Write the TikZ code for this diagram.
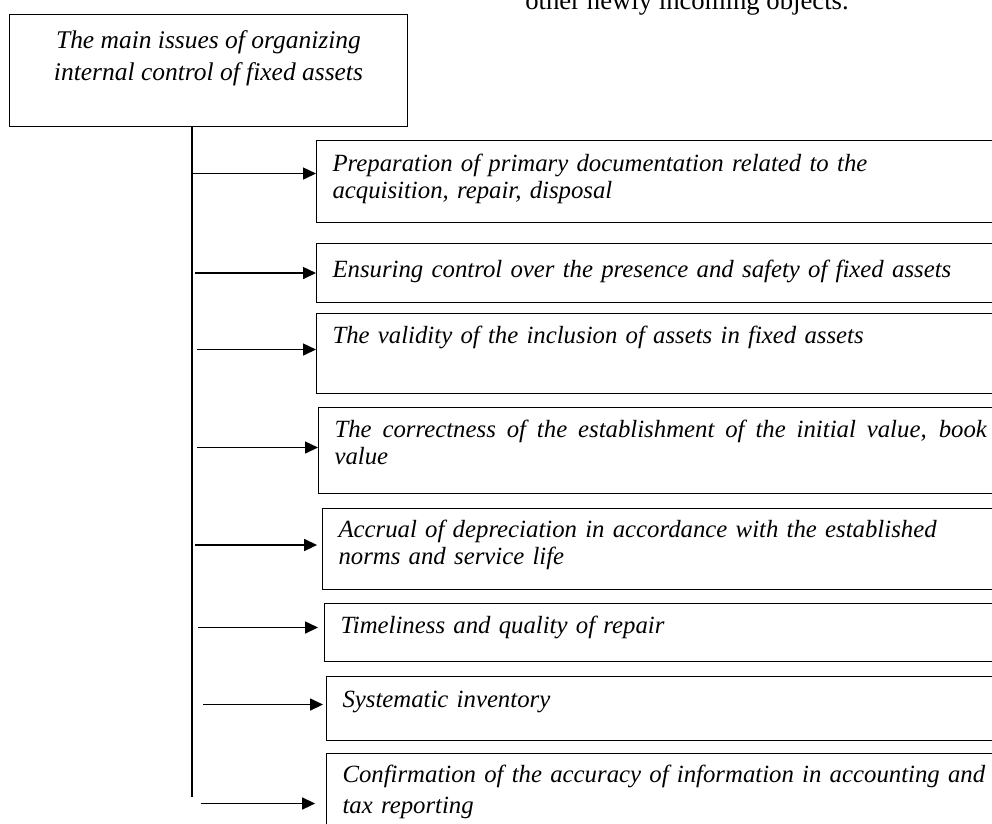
\documentclass[tikz,border=0pt]{standalone}
\usepackage{fontspec}
\setmainfont{Liberation Serif}
\usetikzlibrary{arrows.meta, positioning}

\tikzstyle{headbox} = [rectangle, draw=black, line width=0.6pt, anchor=north west,
minimum width=7.96cm, minimum height=2.24cm, inner ysep=0pt,
align=center, font=\fontsize{14.5}{18.1}\selectfont\itshape]
\tikzstyle{issuebox} = [rectangle, draw=black, line width=0.6pt, anchor=north west,
text width=13cm, inner xsep=0.32cm, inner ysep=0pt, text height=10pt,
align=left, font=\fontsize{14.1}{15.3}\selectfont\itshape]
\tikzstyle{arrow} = [-{Triangle[length=2.6mm, width=2.4mm]}, line width=0.9pt]

\begin{document}
\begin{tikzpicture}[x=0.02cm, y=-0.02cm]
    \useasboundingbox (0,0) rectangle (992,824);

    \node (note) [anchor=base west, inner sep=0pt, font=\fontsize{15.2}{18}\selectfont]
    at (525,10) {other newly incoming objects.};

    \node (main) [headbox, text height=14.3pt, text depth=3pt] at (9,14)
    {The main issues of organizing\\internal control of fixed assets};

    \node (b1) [issuebox, minimum height=1.64cm, text depth=21.3pt] at (316,140)
    {Preparation of primary documentation related to the\\acquisition, repair, disposal};
    \node (b2) [issuebox, minimum height=1.18cm, text depth=4.9pt] at (316,243)
    {Ensuring control over the presence and safety of fixed assets};
    \node (b3) [issuebox, minimum height=1.6cm, text depth=21.3pt] at (316,313)
    {The validity of the inclusion of assets in fixed assets};
    \node (b4) [issuebox, minimum height=1.72cm, text depth=24.7pt] at (318,407)
    {\hbox to 13.05cm{\spaceskip=0pt\xspaceskip=0pt The correctness of the establishment of the initial value, book}\\value};
    \node (b5) [issuebox, minimum height=1.62cm, text depth=23pt] at (322,508)
    {Accrual of depreciation in accordance with the established\\norms and service life};
    \node (b6) [issuebox, minimum height=1.16cm, text depth=8.9pt] at (324,603)
    {Timeliness and quality of repair};
    \node (b7) [issuebox, minimum height=1.28cm, text depth=11.1pt] at (326,676)
    {Systematic inventory};
    \node (b8) [issuebox, minimum height=2cm, text depth=33.8pt] at (326,753)
    {Confirmation of the accuracy of information in accounting and\\[2.3pt]tax reporting};

    \coordinate (spine) at (192,797);
    \draw[line width=0.9pt] (spine |- main.south) -- (spine);

    % arrows: start offset, height offset, gap before box
    \foreach \b/\dx/\dy/\g in {b1/0/8/0pt, b2/3/0/0pt, b3/5/4/0pt, b4/5/3/0pt,
                               b5/3/4/2.8pt, b6/6/5/3.4pt, b7/11/4/1.7pt, b8/9/0/6.2pt}
        \draw[arrow, shorten >=\g] ([xshift=\dx*0.02cm, yshift=\dy*0.02cm]spine |- \b.west)
        -- ([yshift=\dy*0.02cm]\b.west);
\end{tikzpicture}
\end{document}
